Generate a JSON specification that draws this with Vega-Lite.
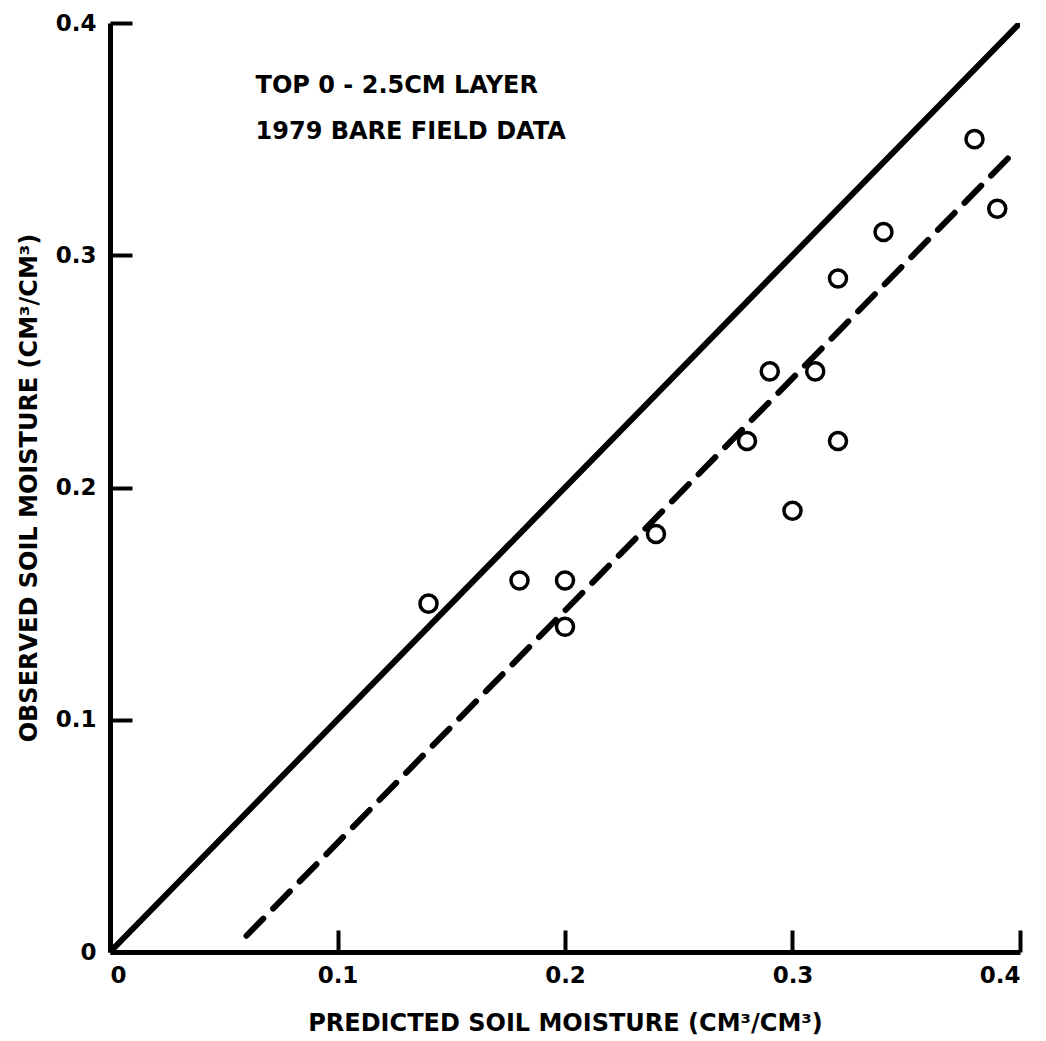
{
  "$schema": "https://vega.github.io/schema/vega-lite/v6.json",
  "width": 910,
  "height": 929,
  "autosize": {"type": "none"},
  "padding": {"left": 110, "top": 23, "right": 26, "bottom": 89},
  "background": "white",
  "config": {
    "view": {"stroke": null},
    "font": "DejaVu Sans",
    "axis": {
      "domainColor": "black",
      "domainWidth": 5,
      "tickColor": "black",
      "tickWidth": 4,
      "tickSize": -22,
      "grid": false,
      "labelFont": "DejaVu Sans",
      "labelFontSize": 23,
      "labelFontWeight": "bold",
      "labelColor": "black",
      "titleFont": "DejaVu Sans",
      "titleFontSize": 24,
      "titleFontWeight": "bold",
      "titleColor": "black"
    }
  },
  "datasets": {
    "points": [
      {"pred": 0.14, "obs": 0.15},
      {"pred": 0.18, "obs": 0.16},
      {"pred": 0.20, "obs": 0.16},
      {"pred": 0.20, "obs": 0.14},
      {"pred": 0.24, "obs": 0.18},
      {"pred": 0.28, "obs": 0.22},
      {"pred": 0.29, "obs": 0.25},
      {"pred": 0.30, "obs": 0.19},
      {"pred": 0.31, "obs": 0.25},
      {"pred": 0.32, "obs": 0.22},
      {"pred": 0.32, "obs": 0.29},
      {"pred": 0.34, "obs": 0.31},
      {"pred": 0.38, "obs": 0.35},
      {"pred": 0.39, "obs": 0.32}
    ],
    "oneToOne": [
      {"pred": 0, "obs": 0},
      {"pred": 0.4, "obs": 0.4}
    ],
    "fit": [
      {"pred": 0.06, "obs": 0.007},
      {"pred": 0.398, "obs": 0.345}
    ],
    "notes": [
      {"pred": 0.064, "obs": 0.373, "label": "TOP 0 - 2.5CM LAYER"},
      {"pred": 0.064, "obs": 0.353, "label": "1979 BARE FIELD DATA"}
    ]
  },
  "layer": [
    {
      "data": {"name": "oneToOne"},
      "mark": {"type": "line", "color": "black", "strokeWidth": 6, "strokeCap": "round", "clip": true},
      "encoding": {
        "x": {"field": "pred", "type": "quantitative", "scale": {"domain": [0, 0.4], "nice": false},
          "axis": {"values": [0, 0.1, 0.2, 0.3, 0.4], "title": "PREDICTED SOIL MOISTURE (CM³/CM³)", "labelPadding": 34, "titlePadding": 24, "format": "~g"}},
        "y": {"field": "obs", "type": "quantitative", "scale": {"domain": [0, 0.4], "nice": false},
          "axis": {"values": [0, 0.1, 0.2, 0.3, 0.4], "title": "OBSERVED SOIL MOISTURE (CM³/CM³)", "labelPadding": 36, "titlePadding": 14, "format": "~g"}}
      }
    },
    {
      "data": {"name": "fit"},
      "mark": {"type": "line", "color": "black", "strokeWidth": 6, "strokeDash": [24, 14], "strokeCap": "round"},
      "encoding": {
        "x": {"field": "pred", "type": "quantitative"},
        "y": {"field": "obs", "type": "quantitative"}
      }
    },
    {
      "data": {"name": "points"},
      "mark": {"type": "point", "shape": "circle", "filled": false, "color": "black", "strokeWidth": 3.5, "size": 290, "opacity": 1},
      "encoding": {
        "x": {"field": "pred", "type": "quantitative"},
        "y": {"field": "obs", "type": "quantitative"}
      }
    },
    {
      "data": {"name": "notes"},
      "mark": {"type": "text", "align": "left", "baseline": "middle", "fontSize": 24, "fontWeight": "bold", "color": "black", "font": "DejaVu Sans"},
      "encoding": {
        "x": {"field": "pred", "type": "quantitative"},
        "y": {"field": "obs", "type": "quantitative"},
        "text": {"field": "label"}
      }
    }
  ]
}
